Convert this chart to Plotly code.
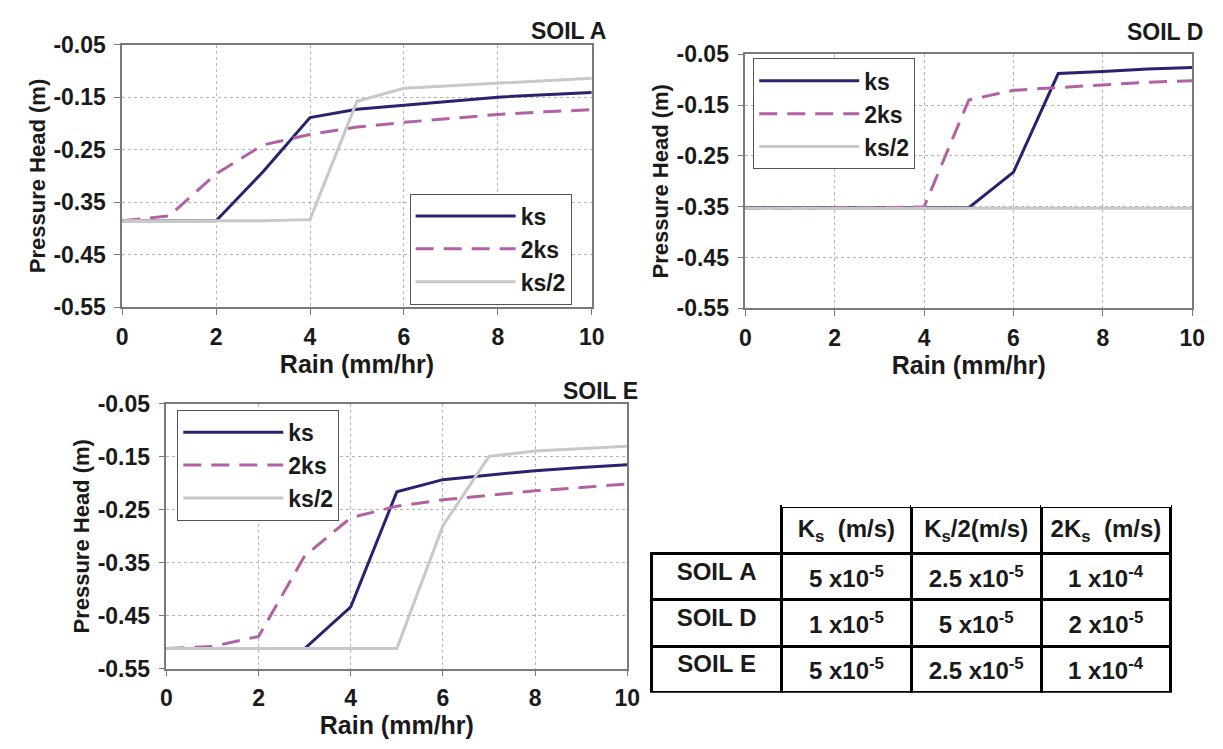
import plotly.graph_objects as go

FONT = "Liberation Sans, Arial, sans-serif"

rain = [0, 1, 2, 3, 4, 5, 6, 7, 8, 9, 10]
x_ticks = [0, 2, 4, 6, 8, 10]
y_ticks = [-0.55, -0.45, -0.35, -0.25, -0.15, -0.05]
series_names = ["ks", "2ks", "ks/2"]

soil_a_ks = [-0.385, -0.385, -0.385, -0.292, -0.189, -0.173, -0.166, -0.158, -0.150, -0.145, -0.141]
soil_a_2ks = [-0.385, -0.376, -0.296, -0.241, -0.221, -0.207, -0.198, -0.190, -0.183, -0.178, -0.174]
soil_a_ks2 = [-0.385, -0.385, -0.385, -0.385, -0.383, -0.158, -0.133, -0.128, -0.123, -0.118, -0.114]

soil_d_ks = [-0.352, -0.352, -0.352, -0.352, -0.352, -0.352, -0.282, -0.088, -0.084, -0.079, -0.076]
soil_d_2ks = [-0.353, -0.353, -0.353, -0.352, -0.350, -0.140, -0.121, -0.116, -0.110, -0.105, -0.102]
soil_d_ks2 = [-0.353, -0.353, -0.353, -0.353, -0.353, -0.353, -0.353, -0.353, -0.353, -0.353, -0.353]

soil_e_ks = [-0.512, -0.512, -0.512, -0.512, -0.433, -0.216, -0.193, -0.184, -0.176, -0.170, -0.165]
soil_e_2ks = [-0.512, -0.508, -0.489, -0.337, -0.265, -0.243, -0.231, -0.223, -0.214, -0.208, -0.201]
soil_e_ks2 = [-0.512, -0.512, -0.512, -0.512, -0.512, -0.512, -0.280, -0.149, -0.139, -0.134, -0.130]

panel_titles = ["SOIL A", "SOIL D", "SOIL E"]

NB = "\u00a0"
table_header = ["", "K<sub>s</sub>" + NB * 2 + "(m/s)", "K<sub>s</sub>/2(m/s)", "2K<sub>s</sub>" + NB * 2 + "(m/s)"]
table_soils = ["SOIL" + NB + "A", "SOIL" + NB + "D", "SOIL" + NB + "E"]
table_ks = ["5" + NB + "x10<sup>-5</sup>", "1" + NB + "x10<sup>-5</sup>", "5" + NB + "x10<sup>-5</sup>"]
table_ks_half = ["2.5" + NB + "x10<sup>-5</sup>", "5" + NB + "x10<sup>-5</sup>", "2.5" + NB + "x10<sup>-5</sup>"]
table_2ks = ["1" + NB + "x10<sup>-4</sup>", "2" + NB + "x10<sup>-5</sup>", "1" + NB + "x10<sup>-4</sup>"]

colors = ["#28236E", "#B262A4", "#C8C8C8"]
dashes = ["solid", "18px,10px", "solid"]

W, H = 1223, 749


def px_x(p):
    return p / W


def px_y(p):
    return 1 - p / H


panels = [
    dict(data=[soil_a_ks, soil_a_2ks, soil_a_ks2], xd=[118, 595], yd=[32.7, 305], legend=(410, 187),
         title=(612, 19)),
    dict(data=[soil_d_ks, soil_d_2ks, soil_d_ks2], xd=[751, 1205], yd=[42.7, 306], legend=(759, 47),
         title=(1218, 20)),
    dict(data=[soil_e_ks, soil_e_2ks, soil_e_ks2], xd=[163, 631], yd=[405, 679.3], legend=(174, 411),
         title=(644, 392)),
]

fig = go.Figure()
layout = dict(
    width=W, height=H,
    margin=dict(l=0, r=0, t=0, b=0),
    paper_bgcolor="white", plot_bgcolor="white",
    font=dict(family=FONT, color="#1a1a1a", size=20, weight="bold"),
    annotations=[],
)

for i, p in enumerate(panels):
    suffix = "" if i == 0 else str(i + 1)
    xa = "x" + suffix
    ya = "y" + suffix
    leg = "legend" + suffix
    for s, name in enumerate(series_names):
        fig.add_trace(go.Scatter(
            x=rain, y=p["data"][s], name=name, mode="lines",
            line=dict(color=colors[s], width=3, dash=dashes[s]),
            xaxis=xa, yaxis=ya, legend=leg,
        ))
    layout["xaxis" + suffix] = dict(
        domain=[px_x(p["xd"][0]), px_x(p["xd"][1])],
        anchor=ya, range=[0, 10], tickvals=x_ticks,
        ticktext=["<b>%d</b>" % v for v in x_ticks],
        showgrid=True, gridcolor="#b5b5b5", griddash="dot", gridwidth=1,
        showline=True, linecolor="#7a7a7a", linewidth=1.5, mirror=True,
        ticks="outside", ticklen=6, tickcolor="#7a7a7a",
        tickfont=dict(size=23, family=FONT, weight="bold", color="#1a1a1a"),
        ticklabelstandoff=2,
        title=dict(text="Rain (mm/hr)", standoff=0,
                   font=dict(size=25, family=FONT, weight="bold", color="#1a1a1a")),
        zeroline=False, fixedrange=True,
    )
    layout["yaxis" + suffix] = dict(
        domain=[px_y(p["yd"][1]), px_y(p["yd"][0])],
        anchor=xa, range=[-0.55, -0.05], tickvals=y_ticks,
        ticktext=["<b>%.2f</b>" % v for v in y_ticks],
        showgrid=True, gridcolor="#b5b5b5", griddash="dot", gridwidth=1,
        showline=True, linecolor="#7a7a7a", linewidth=1.5, mirror=True,
        ticks="outside", ticklen=6, tickcolor="#7a7a7a",
        tickfont=dict(size=23, family=FONT, weight="bold", color="#1a1a1a"),
        ticklabelstandoff=4,
        title=dict(text="Pressure Head (m)", standoff=2,
                   font=dict(size=22, family=FONT, weight="bold", color="#1a1a1a")),
        zeroline=False, fixedrange=True,
    )
    layout[leg] = dict(
        x=px_x(p["legend"][0]), y=px_y(p["legend"][1]),
        xanchor="left", yanchor="top",
        bgcolor="white", bordercolor="#555555", borderwidth=1,
        font=dict(size=23, family=FONT, weight="bold", color="#1a1a1a"),
        tracegroupgap=0, itemwidth=100,
    )
    layout["annotations"].append(dict(
        text=panel_titles[i], x=px_x(p["title"][0]), y=px_y(p["title"][1]),
        xref="paper", yref="paper", xanchor="right", yanchor="middle",
        showarrow=False, font=dict(size=23, family=FONT, weight="bold", color="#1a1a1a"),
    ))

table_cols = [
    [table_header[0]] + table_soils,
    [table_header[1]] + table_ks,
    [table_header[2]] + table_ks_half,
    [table_header[3]] + table_2ks,
]
line_colors = [["white", "black", "black", "black"]] + [["black"] * 4 for _ in range(3)]

fig.add_trace(go.Table(
    domain=dict(x=[px_x(656), px_x(1184)], y=[px_y(705), px_y(495)]),
    columnwidth=[1, 1, 1, 1],
    header=dict(values=[], height=0, fill_color="white", line=dict(width=0)),
    cells=dict(
        values=table_cols,
        height=40.5, align="center", fill_color="white",
        line=dict(color=line_colors, width=3),
        font=dict(size=24, family=FONT, weight="bold", color="#1a1a1a"),
    ),
))

fig.update_layout(**layout)
fig.write_html("out.html")
